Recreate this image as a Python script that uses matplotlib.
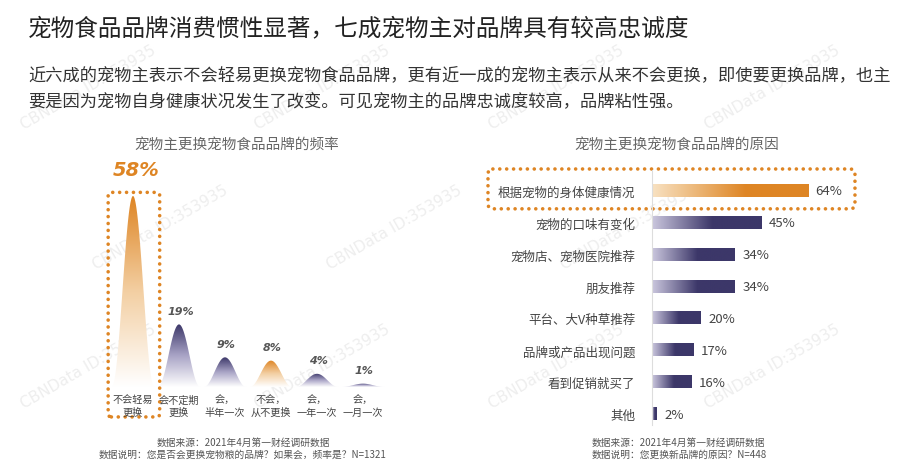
import numpy as np
import matplotlib
matplotlib.use('Agg')
import matplotlib.pyplot as plt
from matplotlib.colors import LinearSegmentedColormap
from matplotlib.patches import Polygon, FancyBboxPatch

plt.rcParams['font.family'] = ['Noto Sans CJK SC', 'DejaVu Sans']

# data
freq_labels = ['不会轻易\n更换', '会不定期\n更换', '会，\n半年一次', '不会，\n从不更换', '会，\n一年一次', '会，\n一月一次']
freq_values = [58, 19, 9, 8, 4, 1]
freq_orange = [True, False, False, True, False, False]

reason_labels = ['根据宠物的身体健康情况', '宠物的口味有变化', '宠物店、宠物医院推荐', '朋友推荐',
                 '平台、大V种草推荐', '品牌或产品出现问题', '看到促销就买了', '其他']
reason_values = [64, 45, 34, 34, 20, 17, 16, 2]

ORANGE = '#DE8524'
PURPLE = '#3C3769'

fig = plt.figure(figsize=(9, 4.64), dpi=100)

# faint watermarks
for row, yy in enumerate([0.72, 0.42, 0.12]):
    for xx in [0.02, 0.28, 0.54, 0.78]:
        x0 = xx + (0.08 if row % 2 else 0)
        if x0 > 0.8:
            continue
        fig.text(x0, yy, 'CBNData ID:353935', rotation=30, fontsize=11, color='#EEEEEE',
                 family='DejaVu Sans', zorder=-5)

fig.text(28 / 900, 1 - 30 / 464, '宠物食品品牌消费惯性显著，七成宠物主对品牌具有较高忠诚度',
         fontsize=17, color='#222222', va='center', fontweight='light')
fig.text(28 / 900, 1 - 89 / 464,
         '近六成的宠物主表示不会轻易更换宠物食品品牌，更有近一成的宠物主表示从来不会更换，即使要更换品牌，也主\n'
         '要是因为宠物自身健康状况发生了改变。可见宠物主的品牌忠诚度较高，品牌粘性强。',
         fontsize=12.4, color='#333333', va='center', linespacing=1.55)

# ---- left chart: frequency peaks ----
ax1 = fig.add_axes([0.112, 0.0787, 0.3271, 0.5819])
ax1.set_facecolor('none')
ax1.axis('off')

cm_or = LinearSegmentedColormap.from_list('o', ['#FFFFFF', '#F3CFA3', ORANGE])
cm_pu = LinearSegmentedColormap.from_list('p', ['#FFFFFF', '#A9A4C6', PURPLE])
w = 0.46
t = np.linspace(-1, 1, 200)
grad = np.linspace(0, 1, 256).reshape(-1, 1)
for i, (v, orng) in enumerate(zip(freq_values, freq_orange)):
    ys = v * (1 + np.cos(np.pi * t)) / 2
    poly = Polygon(np.column_stack([i + w * t, ys]), closed=True, facecolor='none', edgecolor='none')
    ax1.add_patch(poly)
    im = ax1.imshow(grad, extent=[i - w, i + w, 0, v], origin='lower', aspect='auto',
                    cmap=cm_or if orng else cm_pu)
    im.set_clip_path(poly)
    if i == 0:
        ax1.annotate(f'{v}%', (i, v), xytext=(2, 12), textcoords='offset points', ha='center',
                     va='bottom', fontsize=14, fontweight='bold', style='italic', color=ORANGE,
                     family='DejaVu Sans')
    else:
        ax1.annotate(f'{v}%', (i, v), xytext=(1, 6), textcoords='offset points', ha='center',
                     va='bottom', fontsize=8, fontweight='bold', style='italic', color='#555555',
                     family='DejaVu Sans')
    ax1.text(i, -2.2, freq_labels[i], ha='center', va='top', fontsize=7.3, color='#444444',
             linespacing=1.3)
ax1.set_xlim(-0.7, 5.7)
ax1.set_ylim(-12, 70)

box1 = FancyBboxPatch((-0.54, -9.1), 1.12, freq_values[0] + 10.2,
                      boxstyle='round,pad=0,rounding_size=0.07', mutation_aspect=14, fill=False,
                      edgecolor=ORANGE, linewidth=2.6, linestyle=(0, (0.01, 1.9)),
                      capstyle='round', clip_on=False)
ax1.add_patch(box1)

fig.text(237 / 900, 1 - 145 / 464, '宠物主更换宠物食品品牌的频率', fontsize=10.5, color='#666666',
         ha='center', va='center')
fig.text(243 / 900, 1 - 449 / 464, '数据来源：2021年4月第一财经调研数据\n数据说明：您是否会更换宠物粮的品牌？如果会，频率是？N=1321',
         fontsize=7, color='#555555', ha='center', va='center', linespacing=1.15)

# ---- right chart: reasons bars ----
ax2 = fig.add_axes([0.7244, 0.0815, 0.244, 0.5494])
ax2.set_facecolor('none')
bar_h = 0.38
cm_bo = LinearSegmentedColormap.from_list('bo', [(0, '#F8E2C2'), (0.6, ORANGE), (1, ORANGE)])
cm_bp = LinearSegmentedColormap.from_list('bp', [(0, '#CBC7DE'), (0.55, PURPLE), (1, PURPLE)])
hgrad = np.linspace(0, 1, 256).reshape(1, -1)
for i, v in enumerate(reason_values):
    ax2.imshow(hgrad, extent=[0, v, i + bar_h / 2, i - bar_h / 2], aspect='auto',
               cmap=cm_bo if i == 0 else cm_bp)
    ax2.text(v + 3, i, f'{v}%', va='center', ha='left', fontsize=9.5, color='#444444')
ax2.set_xlim(0, 90)
ax2.set_ylim(7.35, -0.65)
ax2.set_yticks(range(len(reason_labels)))
ax2.set_yticklabels(reason_labels, fontsize=9, color='#444444')
ax2.tick_params(axis='y', length=0, pad=12)
ax2.set_xticks([])
for s in ['top', 'right', 'bottom']:
    ax2.spines[s].set_visible(False)
ax2.spines['left'].set_color('#DDDDDD')

box2 = FancyBboxPatch((-67.2, -0.69), 150.4, 1.25,
                      boxstyle='round,pad=0,rounding_size=2', mutation_aspect=0.077, fill=False,
                      edgecolor=ORANGE, linewidth=2.6, linestyle=(0, (0.01, 1.9)),
                      capstyle='round', clip_on=False)
ax2.add_patch(box2)

fig.text(677 / 900, 1 - 145 / 464, '宠物主更换宠物食品品牌的原因', fontsize=10.5, color='#666666',
         ha='center', va='center')
fig.text(592 / 900, 1 - 449 / 464, '数据来源：2021年4月第一财经调研数据\n数据说明：您更换新品牌的原因？N=448',
         fontsize=7, color='#555555', ha='left', va='center', linespacing=1.15)

fig.savefig('out.png', dpi=100, facecolor='white')
